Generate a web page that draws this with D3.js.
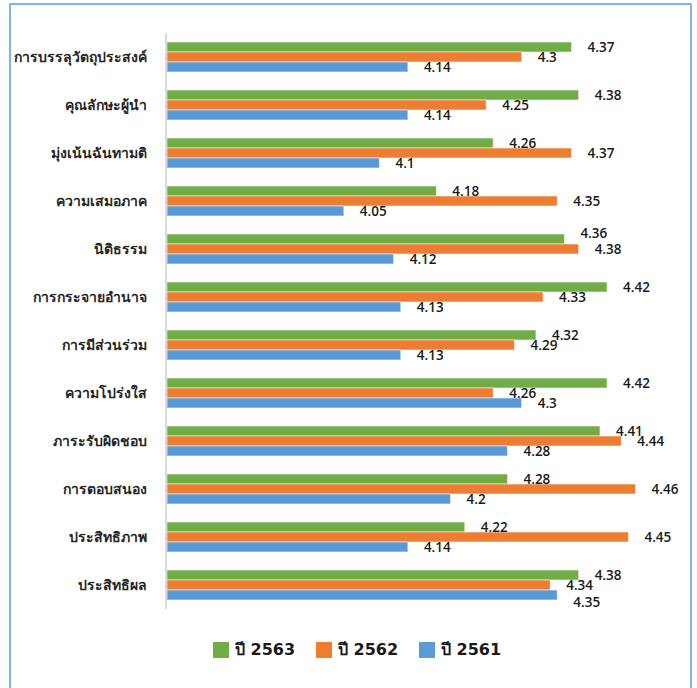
<!DOCTYPE html>
<html>
<head>
<meta charset="utf-8">
<script src="https://cdn.jsdelivr.net/npm/d3@7"></script>
<style>
  body { margin: 0; background: #fff; }
  svg { display: block; font-family: Tahoma, "DejaVu Sans", "Noto Sans", sans-serif; }
  .num { font-family: "Open Sans", "DejaVu Sans", sans-serif; font-weight: 600; }
</style>
</head>
<body>
<svg id="chart" width="697" height="688"></svg>
<script>
// categories top to bottom
const categories = [
  "การบรรลุวัตถุประสงค์",
  "คุณลักษะผู้นำ",
  "มุ่งเน้นฉันทามติ",
  "ความเสมอภาค",
  "นิติธรรม",
  "การกระจายอำนาจ",
  "การมีส่วนร่วม",
  "ความโปร่งใส",
  "ภาระรับผิดชอบ",
  "การตอบสนอง",
  "ประสิทธิภาพ",
  "ประสิทธิผล"
];
const seriesNames = ["ปี 2563", "ปี 2562", "ปี 2561"];
const y2563 = [4.37, 4.38, 4.26, 4.18, 4.36, 4.42, 4.32, 4.42, 4.41, 4.28, 4.22, 4.38];
const y2562 = [4.3, 4.25, 4.37, 4.35, 4.38, 4.33, 4.29, 4.26, 4.44, 4.46, 4.45, 4.34];
const y2561 = [4.14, 4.14, 4.1, 4.05, 4.12, 4.13, 4.13, 4.3, 4.28, 4.2, 4.14, 4.35];
const colors = ["#70ad47", "#ed7d31", "#5b9bd5"];

const seriesValues = [y2563, y2562, y2561];
const data = categories.map((c, i) => ({
  cat: c,
  vals: seriesNames.map((s, j) => ({ key: s, value: seriesValues[j][i] }))
}));

var svg = d3.select("#chart"),
  margin = { top: 33, bottom: 79, left: 166, right: 33 },
  width = +svg.attr("width"),
  height = +svg.attr("height");

// outer frame
svg.append("rect")
  .attr("x", 10).attr("y", 4)
  .attr("width", 681).attr("height", 700)
  .attr("fill", "none")
  .attr("stroke", "#5b9bd5")
  .attr("stroke-width", 1.5);

const x = d3.scaleLinear().domain([3.8, 4.5]).range([margin.left, 664]);

const y = d3.scaleBand()
  .domain(categories)
  .range([margin.top, height - margin.bottom])
  .paddingInner(0.375)
  .paddingOuter(0.1875);

const y1 = d3.scaleBand().domain(seriesNames).range([0, y.bandwidth()]);

// category labels
svg.append("g")
  .selectAll("text")
  .data(categories)
  .join("text")
  .attr("x", margin.left - 19)
  .attr("y", (d) => y(d) + y.bandwidth() / 2 + 1)
  .attr("text-anchor", "end")
  .attr("dominant-baseline", "middle")
  .attr("font-size", 14)
  .attr("font-weight", "bold")
  .attr("fill", "#262626")
  .text((d) => d);

// bars
const groups = svg.append("g")
  .selectAll("g")
  .data(data)
  .join("g")
  .attr("transform", (d) => "translate(0," + y(d.cat) + ")");

groups.selectAll("rect")
  .data((d) => d.vals)
  .join("rect")
  .attr("x", x(3.8) + 1)
  .attr("y", (d) => y1(d.key))
  .attr("width", (d) => x(d.value) - x(3.8) - 1)
  .attr("height", y1.bandwidth())
  .attr("fill", (d, i) => colors[i])
  .attr("stroke", "#fff")
  .attr("stroke-opacity", 0.55)
  .attr("stroke-width", 1);

groups.selectAll("text")
  .data((d) => d.vals)
  .join("text")
  .attr("class", "num")
  .attr("x", (d) => x(d.value) + 16)
  .attr("y", (d) => y1(d.key) + y1.bandwidth() / 2 + 1)
  .attr("dominant-baseline", "middle")
  .attr("font-size", 13.5)
  .attr("fill", "#1a1a1a")
  .text((d) => d.value);

// nudge labels apart when neighbours collide (like the spreadsheet does)
groups.each(function () {
  const t = d3.select(this).selectAll("text").nodes();
  const ext = t.map((n) => {
    const x0 = +n.getAttribute("x");
    return [x0, x0 + n.getComputedTextLength()];
  });
  const hit = (a, b) => Math.min(ext[a][1], ext[b][1]) - Math.max(ext[a][0], ext[b][0]) > 8;
  if (hit(0, 1)) t[0].setAttribute("y", +t[0].getAttribute("y") - 6);
  if (hit(1, 2)) t[2].setAttribute("y", +t[2].getAttribute("y") + 7);
});

// vertical axis line
svg.append("line")
  .attr("x1", margin.left).attr("x2", margin.left)
  .attr("y1", margin.top).attr("y2", height - margin.bottom)
  .attr("stroke", "#d9d9d9")
  .attr("stroke-width", 2);

// legend
const legendX = [213, 316, 419];
const legend = svg.append("g")
  .selectAll("g")
  .data(seriesNames)
  .join("g")
  .attr("transform", (d, i) => "translate(" + legendX[i] + ",642)");

legend.append("rect")
  .attr("width", 16).attr("height", 16)
  .attr("fill", (d, i) => colors[i]);

legend.append("text")
  .attr("x", 22)
  .attr("y", 8)
  .attr("dominant-baseline", "middle")
  .attr("font-size", 16)
  .attr("font-weight", 600)
  .attr("fill", "#1a1a1a")
  .text((d) => d);
</script>
</body>
</html>
